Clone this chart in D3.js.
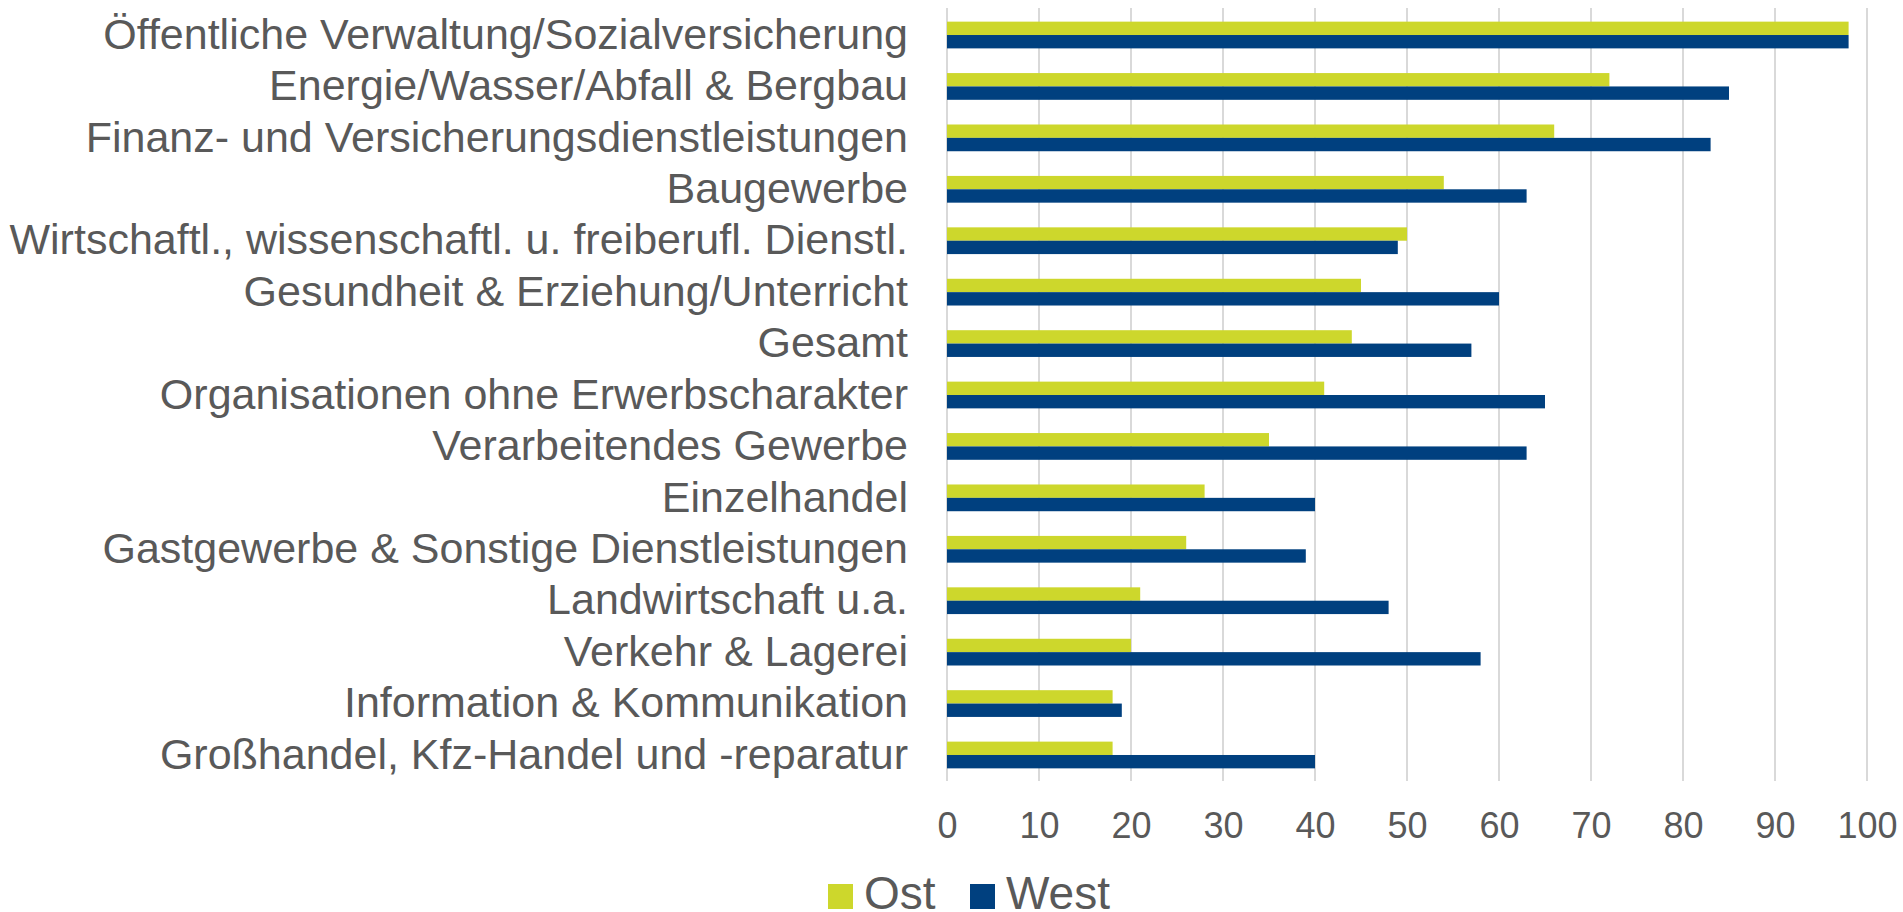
<!DOCTYPE html>
<html>
<head>
<meta charset="utf-8">
<script src="https://cdn.jsdelivr.net/npm/d3@7"></script>
<style>
  html, body { margin: 0; padding: 0; background: #fff; }
  svg { display: block; font-family: Arial, "Liberation Sans", sans-serif; }
</style>
</head>
<body>
<script>
const categories = [
    "Öffentliche Verwaltung/Sozialversicherung",
    "Energie/Wasser/Abfall & Bergbau",
    "Finanz- und Versicherungsdienstleistungen",
    "Baugewerbe",
    "Wirtschaftl., wissenschaftl. u. freiberufl. Dienstl.",
    "Gesundheit & Erziehung/Unterricht",
    "Gesamt",
    "Organisationen ohne Erwerbscharakter",
    "Verarbeitendes Gewerbe",
    "Einzelhandel",
    "Gastgewerbe & Sonstige Dienstleistungen",
    "Landwirtschaft u.a.",
    "Verkehr & Lagerei",
    "Information & Kommunikation",
    "Großhandel, Kfz-Handel und -reparatur",
];
const ost = [98, 72, 66, 54, 50, 45, 44, 41, 35, 28, 26, 21, 20, 18, 18];
const west = [98, 85, 83, 63, 49, 60, 57, 65, 63, 40, 39, 48, 58, 19, 40];
const seriesNames = ["Ost", "West"];
const seriesColors = ["#cdd72c", "#00407f"];
const xTicks = [0, 10, 20, 30, 40, 50, 60, 70, 80, 90, 100];

const width = 1903, height = 912;
const textColor = "#595959";

const rows = categories.map((c, i) => ({ category: c, Ost: ost[i], West: west[i] }));

const svg = d3.select("body")
    .append("svg")
    .attr("width", width)
    .attr("height", height);

const x = d3.scaleLinear()
    .domain([0, 100])
    .range([947, 1867]);
const y = d3.scaleBand()
    .domain(categories)
    .range([9.3, 780.7])
    .paddingInner(0.48)
    .paddingOuter(0.24);
const ySub = d3.scaleBand()
    .domain(seriesNames)
    .range([0, y.bandwidth()]);
const color = d3.scaleOrdinal()
    .domain(seriesNames)
    .range(seriesColors);

// vertical gridlines (the 0 line is drawn the same way)
svg.append("g")
    .selectAll("line")
    .data(xTicks)
    .join("line")
        .attr("x1", d => x(d))
        .attr("x2", d => x(d))
        .attr("y1", 8)
        .attr("y2", 781)
        .attr("stroke", "#d9d9d9")
        .attr("stroke-width", 2);

// bars
svg.append("g")
    .selectAll("g")
    .data(rows)
    .join("g")
        .attr("transform", d => `translate(0,${y(d.category)})`)
    .selectAll("rect")
    .data(d => seriesNames.map(k => ({ key: k, value: d[k] })))
    .join("rect")
        .attr("x", x(0))
        .attr("y", d => ySub(d.key))
        .attr("width", d => x(d.value) - x(0))
        .attr("height", ySub.bandwidth())
        .attr("fill", d => color(d.key));

// category labels
const yAxis = g => g
    .attr("transform", `translate(${x(0) - 39},0)`)
    .call(d3.axisLeft(y).tickSize(0).tickPadding(0))
    .call(g => g.select(".domain").remove())
    .call(g => g.selectAll("text")
        .attr("fill", textColor)
        .attr("font-size", 43)
        .attr("font-family", "Arial, 'Liberation Sans', sans-serif"));
svg.append("g").call(yAxis);

// x tick labels
const xAxis = g => g
    .attr("transform", "translate(0,838)")
    .call(d3.axisBottom(x).tickValues(xTicks).tickSize(0).tickPadding(0))
    .call(g => g.select(".domain").remove())
    .call(g => g.selectAll("text")
        .attr("dy", 0)
        .attr("fill", textColor)
        .attr("font-size", 36)
        .attr("font-family", "Arial, 'Liberation Sans', sans-serif"));
svg.append("g").call(xAxis);

// legend
const legendX = [828, 970];
const legend = svg.append("g")
    .selectAll("g")
    .data(seriesNames)
    .join("g")
        .attr("transform", (d, i) => `translate(${legendX[i]},884)`);
legend.append("rect")
    .attr("width", 25)
    .attr("height", 25)
    .attr("fill", d => color(d));
legend.append("text")
    .attr("x", 36)
    .attr("y", 25)
    .attr("fill", textColor)
    .attr("font-size", 46)
    .text(d => d);
</script>
</body>
</html>
